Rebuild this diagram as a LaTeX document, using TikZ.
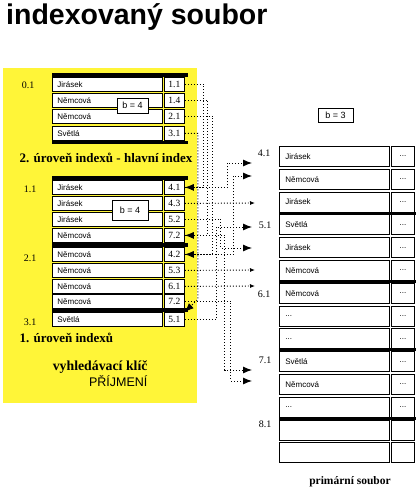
\documentclass[tikz,border=0pt]{standalone}
\usepackage{fontspec}
\setmainfont{Liberation Serif}
\setsansfont{Liberation Sans}
\usetikzlibrary{arrows.meta}
\newcommand\tecky{...}

\begin{document}
\begin{tikzpicture}[
    x=1pt, y=-1pt,
    >=Latex,
    cell/.style={draw, line width=0.8pt, fill=white, anchor=north west, inner xsep=5pt, inner ysep=0pt,
        text width=100pt, align=left, minimum height=14pt, font=\sffamily\fontsize{8}{8}\selectfont},
    num/.style={draw, line width=0.8pt, fill=white, anchor=north west, inner sep=0pt,
        minimum width=20pt, minimum height=14pt, font=\fontsize{9.5}{10}\selectfont},
    pcell/.style={cell, text width=98pt, inner xsep=6pt, minimum height=20pt},
    pnum/.style={num, minimum width=23pt, minimum height=20pt, font=\sffamily\fontsize{8}{8}\selectfont},
    bvalue/.style={draw, line width=0.8pt, fill=white, inner sep=0pt, font=\sffamily\fontsize{9}{10}\selectfont},
    blocklabel/.style={font=\fontsize{10}{10}\selectfont},
    heading/.style={font=\bfseries\fontsize{13}{13}\selectfont},
    bar/.style={line width=3.5pt},
    ptr/.style={line width=0.9pt, dash pattern=on 1pt off 2pt},
    big/.style={-{Latex[length=9pt,width=7pt]}},
    small/.style={-{Latex[length=5pt,width=4pt]}}
]
\useasboundingbox (0,0) rectangle (416,492);

\node[anchor=north west, inner sep=0pt, font=\sffamily\bfseries\fontsize{28.5}{28.5}\selectfont] (title) at (6,3) {indexovaný soubor};

% zluta oblast indexu
\fill[yellow!78] (3,68) rectangle (197,403);

% 2. uroven - hlavni index
\foreach \i/\y/\k/\p in {1/77/Jirásek/1.1, 2/93/Němcová/1.4, 3/109/Němcová/2.1, 4/126/Světlá/3.1}{
    \node[cell] (hk\i) at (52,\y) {\k};
    \node[num] (hp\i) at (164,\y) {\p};
}
\draw[bar] (52,75) -- (188,75);
\draw[bar] (52,142.5) -- (188,142.5);
\node[bvalue, minimum width=31pt, minimum height=15pt] (hb) at (132.5,105.5) {b = 4};
\node[blocklabel] (h01) at (28,85) {0.1};
\node[heading, anchor=west] (hnadpis) at (16,158) {2. úroveň indexů - hlavní index};

% 1. uroven indexu
\foreach \i/\y/\k/\p in {1/180/Jirásek/4.1, 2/196/Jirásek/4.3, 3/212/Jirásek/5.2, 4/228/Němcová/7.2,
    5/247/Němcová/4.2, 6/263/Němcová/5.3, 7/279/Němcová/6.1, 8/294/Němcová/7.2, 9/312/Světlá/5.1}{
    \node[cell] (lk\i) at (52,\y) {\k};
    \node[num] (lp\i) at (164,\y) {\p};
}
\draw[bar] (52,178) -- (188,178);
\draw[bar] (52,244.8) -- (188,244.8);
\draw[bar] (52,310) -- (188,310);
\node[bvalue, minimum width=36pt, minimum height=20pt] (lb) at (130,210) {b = 4};
\node[blocklabel] (l11) at (30,189) {1.1};
\node[blocklabel] (l21) at (30,258) {2.1};
\node[blocklabel] (l31) at (30,322) {3.1};
\node[heading, anchor=west] (lnadpis) at (16,338) {1. úroveň indexů};
\node[heading, anchor=east, font=\bfseries\fontsize{13.8}{14}\selectfont] (klic) at (151,367) {vyhledávací klíč};
\node[anchor=east, font=\sffamily\fontsize{12.5}{13}\selectfont] (prijmeni) at (151,381) {PŘÍJMENÍ};

% primarni soubor
\foreach \i/\k/\v in {0/Jirásek/\tecky, 1/Němcová/\tecky, 2/Jirásek/\tecky, 3/Světlá/\tecky, 4/Jirásek/\tecky,
    5/Němcová/\tecky, 6/Němcová/\tecky, 7/\tecky/\tecky, 8/\tecky/\tecky, 9/Světlá/\tecky, 10/Němcová/\tecky,
    11/\tecky/\tecky, 12/{}/{}, 13/{}/{}}{
    \pgfmathsetmacro\yy{146+22.8*\i}
    \node[pcell] (pk\i) at (279,\yy) {\k};
    \node[pnum] (pv\i) at (391,\yy) {\v};
}
\foreach \y in {213,281.5,349.8,418}{
    \draw[line width=3pt] (279,\y) -- (416,\y);
}
\node[bvalue, minimum width=35pt, minimum height=14pt] (pb) at (335.5,115) {b = 3};
\node[blocklabel] (p41) at (264,153) {4.1};
\node[blocklabel] (p51) at (265,225) {5.1};
\node[blocklabel] (p61) at (264,294) {6.1};
\node[blocklabel] (p71) at (265,360) {7.1};
\node[blocklabel] (p81) at (265,424) {8.1};
\node[font=\bfseries\fontsize{11.5}{12}\selectfont] (psoubor) at (350,482) {primární soubor};

% ukazatele z hlavniho indexu
\draw[ptr, big] (hp1.east) -- ++(19,0) |- (lp1.east);
\draw[ptr, big] (hp2.east) -- ++(23,0) |- (lp4.east);
\draw[ptr, big] (hp3.east) -- ++(28,0) |- (lp5.east);
\draw[ptr, big] (hp4.east) -- ++(13,0) -- ++(0,166) -- (lp9.north east);

% ukazatele do primarniho souboru
\coordinate (t1) at (252,163);
\coordinate (t2) at (255,203);
\coordinate (t3) at (252,248);
\coordinate (t4) at (252,370);
\coordinate (t5) at (252,176);
\coordinate (t6) at (255,270);
\coordinate (t7) at (255,286);
\coordinate (t8) at (252,381);
\coordinate (t9) at (252,227);
\draw[ptr, big] (lp1.east) -- ++(43,0) |- (t1);
\draw[ptr, small] (lp2.east) -- (t2);
\draw[ptr, big] (lp3.east) -- ++(36,0) |- (t3);
\draw[ptr, big] (lp4.east) -- ++(40,0) |- (t4);
\draw[ptr, big] (lp5.east) -- ++(49,0) |- (t5);
\draw[ptr, small] (lp6.east) -- (t6);
\draw[ptr, small] (lp7.east) -- (t7);
\draw[ptr, big] (lp8.east) -- ++(46,0) |- (t8);
\draw[ptr, big] (lp9.east) -- ++(32,0) |- (t9);
\end{tikzpicture}
\end{document}
